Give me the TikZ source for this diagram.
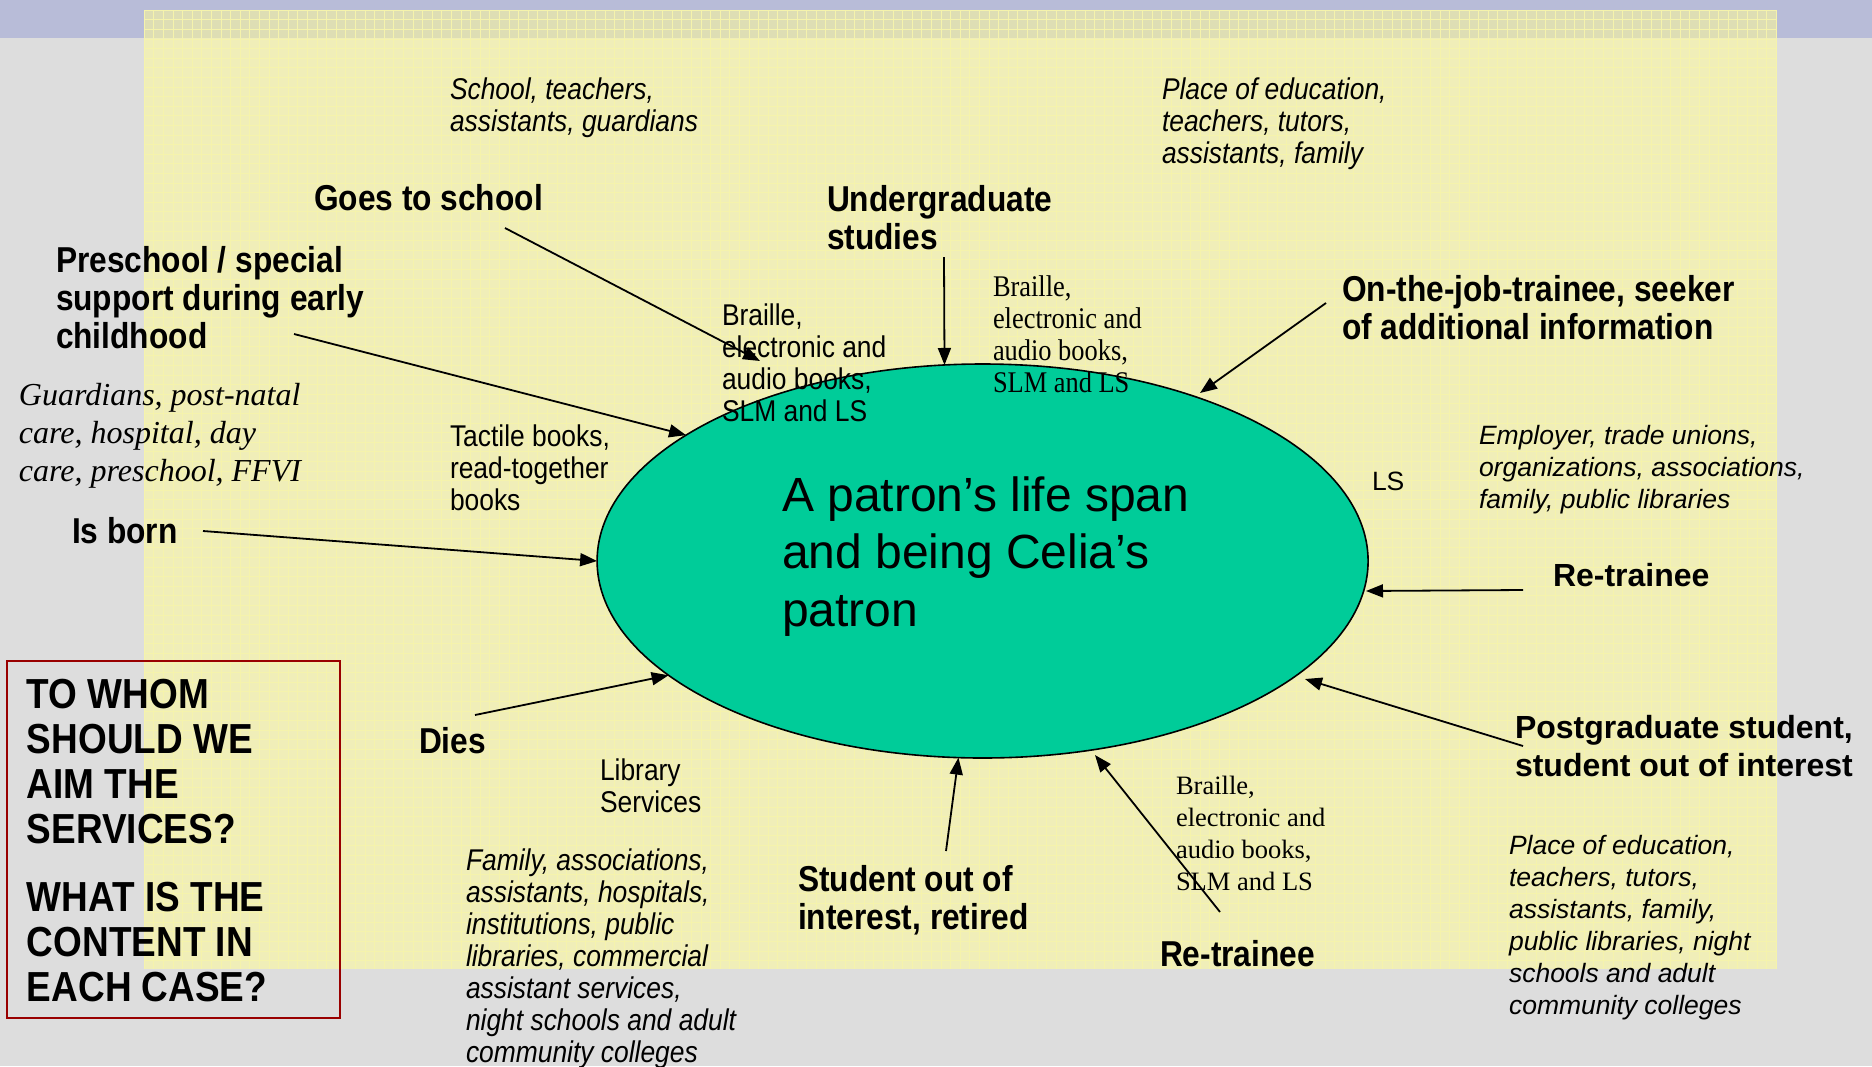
\documentclass[tikz,border=0pt]{standalone}
\usepackage{fontspec}
\setmainfont{Liberation Sans}
\newfontfamily\cnd[FakeStretch=0.88]{Liberation Sans}
\newfontfamily\tms{Liberation Serif}
\newfontfamily\tmscnd[FakeStretch=0.88]{Liberation Serif}
\usetikzlibrary{arrows.meta,shapes.geometric}
\definecolor{bggrey}{RGB}{221,221,221}
\definecolor{band}{RGB}{184,188,216}
\definecolor{paper}{RGB}{240,238,184}
\definecolor{paperdark}{RGB}{222,222,180}
\definecolor{gridc}{RGB}{245,243,172}
\definecolor{ellgreen}{RGB}{0,204,153}
\definecolor{boxred}{RGB}{153,0,0}
\begin{document}
\begin{tikzpicture}[x=1pt,y=-1pt,
  lbl/.style={anchor=west,inner sep=0pt,outer sep=0pt,align=left},
  bcl/.style={lbl,font={\cnd\bfseries\fontsize{36}{38}\selectfont}},
  bnl/.style={lbl,font={\bfseries\fontsize{32}{38}\selectfont}},
  icl/.style={lbl,font={\cnd\itshape\fontsize{30}{32}\selectfont}},
  inl/.style={lbl,font={\itshape\fontsize{26.5}{32}\selectfont}},
  rcl/.style={lbl,font={\cnd\fontsize{30}{32}\selectfont}},
  rnl/.style={lbl,font={\fontsize{26.5}{32}\selectfont}},
  scl/.style={lbl,font={\tmscnd\fontsize{30}{32}\selectfont}},
  snl/.style={lbl,font={\tms\fontsize{26.5}{32}\selectfont}},
  sil/.style={lbl,font={\tms\itshape\fontsize{32}{38}\selectfont}},
  qtext/.style={lbl,font={\cnd\bfseries\fontsize{42}{44.8}\selectfont}},
  arr/.style={draw=black,line width=1.8pt,-{Triangle[length=17pt,width=13pt]}}
]
\useasboundingbox (0,0) rectangle (1872,1066);
% background
\fill[bggrey] (0,0) rectangle (1872,1066);
\fill[band] (0,0) rectangle (1872,38);
\fill[paper] (144,10) rectangle (1777,969);
\fill[paperdark] (144,10) rectangle (1777,38);
\foreach \gx in {0,...,170} \draw[gridc,line width=0.5pt] ({144+9.6*\gx},10) -- ({144+9.6*\gx},969);
\foreach \gy in {0,...,99} \draw[gridc,line width=0.5pt] (144,{10+9.6*\gy}) -- (1777,{10+9.6*\gy});

% central ellipse
\node[ellipse,draw=black,line width=1.6pt,fill=ellgreen,minimum width=771pt,minimum height=394pt,inner sep=0pt,outer sep=0pt] (life) at (982.6,561) {};
\node[lbl,font={\fontsize{48}{57.5}\selectfont}] (lifetxt) at (782,556.5) {A patron’s life span\\and being Celia’s\\patron};

% question box
\node[draw=boxred,line width=2pt,minimum width=333pt,minimum height=357pt,inner sep=0pt] (qbox) at (173.5,839.5) {};
\node[qtext] (q1) at (27,761.5) {TO WHOM\\SHOULD WE\\AIM THE\\SERVICES?};
\node[qtext] (q2) at (27,942) {WHAT IS THE\\CONTENT IN\\EACH CASE?};

% labels
\node[icl] (school) at (450,107.5) {School, teachers,\\assistants, guardians};
\node[icl] (placetop) at (1162,124) {Place of education,\\teachers, tutors,\\assistants, family};
\node[bcl] (goes) at (314,198) {Goes to school};
\node[bcl] (under) at (827,217.5) {Undergraduate\\studies};
\node[bcl] (presch) at (56,297.5) {Preschool / special\\support during early\\childhood};
\node[bcl] (onjob) at (1342,307.5) {On-the-job-trainee, seeker\\of additional information};
\node[rcl] (brsans) at (722,363) {Braille,\\electronic and\\audio books,\\SLM and LS};
\node[scl] (brtop) at (993,334) {Braille,\\electronic and\\audio books,\\SLM and LS};
\node[sil] (guard) at (19,436) {Guardians, post-natal\\care, hospital, day\\care, preschool, FFVI};
\node[rcl] (tactile) at (450,468) {Tactile books,\\read-together\\books};
\node[bcl] (born) at (72,531) {Is born};
\node[rnl] (ls) at (1372,481) {LS};
\node[inl] (employer) at (1479,470) {Employer, trade unions,\\organizations, associations,\\family, public libraries};
\node[bnl] (retrR) at (1553,575) {Re-trainee};
\node[bnl] (postgr) at (1515,746) {Postgraduate student,\\student out of interest};
\node[inl] (placebot) at (1509,928) {Place of education,\\teachers, tutors,\\assistants, family,\\public libraries, night\\schools and adult\\community colleges};
\node[bcl] (dies) at (419,741) {Dies};
\node[rcl] (libserv) at (600,785.5) {Library\\Services};
\node[icl] (family) at (466,958.5) {Family, associations,\\assistants, hospitals,\\institutions, public\\libraries, commercial\\assistant services,\\night schools and adult\\community colleges};
\node[bcl] (student) at (798,900) {Student out of\\interest, retired};
\node[snl] (brbot) at (1176,833) {Braille,\\electronic and\\audio books,\\SLM and LS};
\node[bcl] (retrB) at (1160,954) {Re-trainee};

% connector ends
\coordinate (goesS) at (505,228);
\coordinate (goesE) at (760,361);
\coordinate (preS) at (294,334);
\coordinate (underS) at (944,257);
\coordinate (onjobS) at (1326,303);
\coordinate (onjobE) at (1200,393);
\coordinate (bornS) at (203,531);
\coordinate (retrRS) at (1523,590);
\coordinate (retrRE) at (1366,591);
\coordinate (postS) at (1523,746);
\coordinate (postE) at (1305,679);
\coordinate (retrBS) at (1220,912);
\coordinate (retrBE) at (1095,755);
\coordinate (studS) at (946,851);
\coordinate (diesS) at (475,715);

% connectors
\draw[arr] (goesS) -- (goesE);
\draw[arr] (preS) -- (life.157.6);
\draw[arr] (underS) -- (life.101);
\draw[arr] (onjobS) -- (onjobE);
\draw[arr] (bornS) -- (life.180);
\draw[arr] (retrRS) -- (retrRE);
\draw[arr] (postS) -- (postE);
\draw[arr] (retrBS) -- (retrBE);
\draw[arr] (studS) -- (life.263.4);
\draw[arr] (diesS) -- (life.200.7);
\end{tikzpicture}
\end{document}
